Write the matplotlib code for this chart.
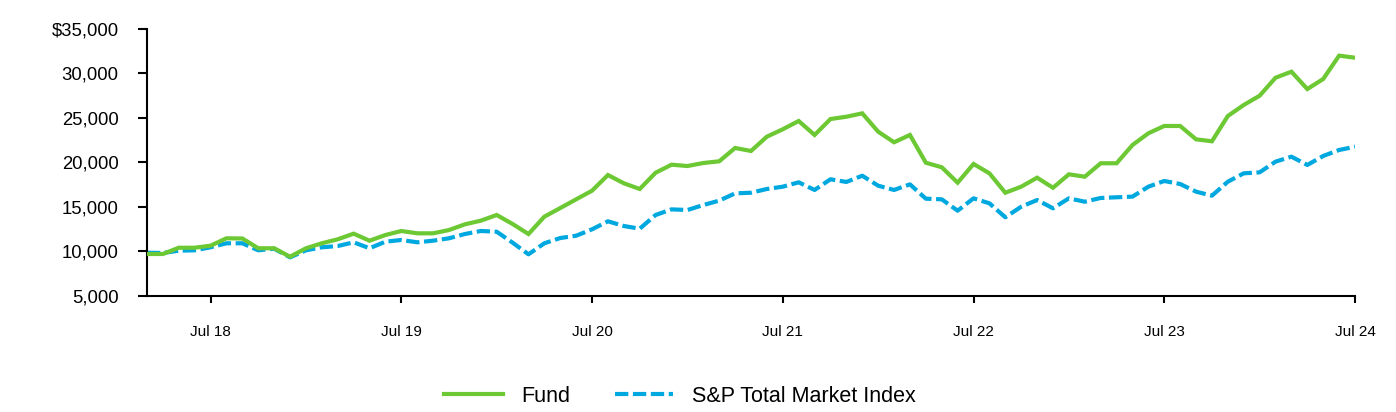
import matplotlib
matplotlib.use("Agg")
import matplotlib.pyplot as plt
from matplotlib.ticker import FuncFormatter

plt.rcParams['font.family'] = ['Liberation Sans', 'DejaVu Sans']

# Monthly values, Mar 2018 .. Jul 2024 (77 months)
fund = [9685, 9685, 10390, 10390, 10620, 11450, 11430, 10330, 10330, 9380,
        10330, 10890, 11340, 11970, 11180, 11820, 12270, 12010, 12010, 12380,
        13020, 13430, 14070, 13060, 11930, 13880, 14850, 15830, 16800, 18560,
        17630, 16990, 18820, 19720, 19570, 19910, 20100, 21600, 21260, 22870,
        23700, 24630, 23060, 24850, 25110, 25490, 23430, 22240, 23060, 19940,
        19430, 17700, 19800, 18750, 16570, 17250, 18260, 17130, 18640, 18370,
        19880, 19880, 21930, 23250, 24070, 24070, 22570, 22350, 25190, 26430,
        27470, 29490, 30170, 28220, 29350, 31970, 31740]
index = [9830, 9800, 10060, 10100, 10440, 10890, 10890, 10100, 10280, 9310,
         10100, 10440, 10580, 11000, 10330, 11070, 11260, 11000, 11180, 11450,
         11930, 12270, 12190, 10960, 9650, 10890, 11480, 11740, 12460, 13360,
         12830, 12530, 14070, 14700, 14630, 15190, 15680, 16500, 16570, 16990,
         17250, 17740, 16880, 18080, 17780, 18480, 17360, 16880, 17510, 15900,
         15830, 14550, 15940, 15380, 13810, 15000, 15750, 14820, 15940, 15560,
         15980, 16060, 16130, 17250, 17890, 17550, 16690, 16240, 17810, 18750,
         18860, 20060, 20620, 19690, 20700, 21370, 21740]
months = list(range(len(fund)))
tick_pos = [4, 16, 28, 40, 52, 64, 76]
tick_labels = ["Jul 18", "Jul 19", "Jul 20", "Jul 21", "Jul 22", "Jul 23", "Jul 24"]
y_ticks = [5000, 10000, 15000, 20000, 25000, 30000, 35000]

fig = plt.figure(figsize=(13.96, 4.12), dpi=100)
ax = fig.add_axes([147/1396, 1-295.7/412, (1355-147)/1396, (295.7-28.7)/412])

green = "#6CC833"
blue = "#00A8E0"
ax.plot(months, fund, color=green, lw=3.0, label="Fund", solid_joinstyle="miter", zorder=3)
ax.plot(months, index, color=blue, lw=3.0, linestyle=(0, (3.2, 1.1)),
        label="S&P Total Market Index", zorder=2)

ax.set_xlim(0, 76)
ax.set_ylim(5000, 35000)
ax.set_xticks(tick_pos)
ax.set_xticklabels(tick_labels, fontsize=11)
ax.set_yticks(y_ticks)
ax.yaxis.set_major_formatter(FuncFormatter(lambda v, p: f"${v:,.0f}" if v == 35000 else f"{v:,.0f}"))
ax.tick_params(axis='y', labelsize=13.3, length=6.5, width=1.5, pad=14, color='black')
ax.tick_params(axis='x', length=5, width=1.5, pad=16, direction='out')
for s in ['top', 'right']:
    ax.spines[s].set_visible(False)
for s in ['left', 'bottom']:
    ax.spines[s].set_linewidth(1.5)
    ax.spines[s].set_color('black')

fig.legend(loc='center', bbox_to_anchor=(680/1396, 1-396/412), ncol=2, frameon=False,
           fontsize=15.5, handlelength=2.7, handletextpad=0.88, columnspacing=2.05)

fig.savefig("out.png", dpi=100)
